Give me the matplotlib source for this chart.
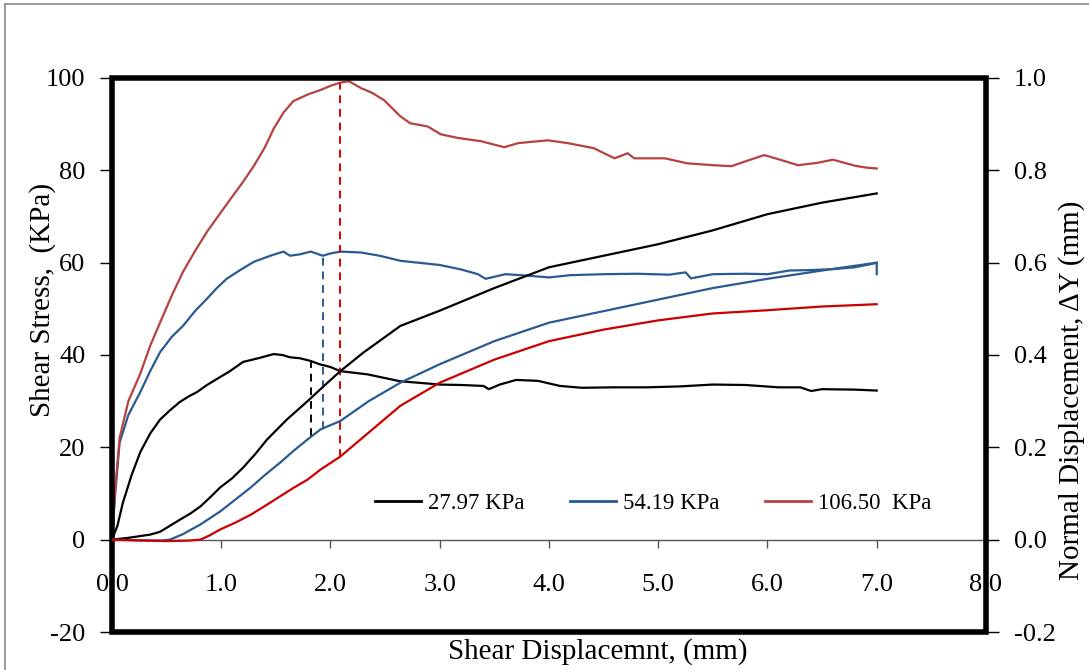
import matplotlib
matplotlib.use("Agg")
import matplotlib.pyplot as plt
from matplotlib.patches import Rectangle
from matplotlib.lines import Line2D

plt.rcParams['font.family'] = ['Liberation Serif', 'DejaVu Serif']
plt.rcParams['axes.unicode_minus'] = False

# shear stress (KPa) vs shear displacement (mm)
x_27 = [0, 0.05, 0.1, 0.18, 0.26, 0.35, 0.44, 0.53, 0.62, 0.7, 0.78, 0.87, 0.96, 1.08, 1.2, 1.34,
        1.48, 1.56, 1.63, 1.72, 1.82, 1.9, 2.0, 2.09, 2.2, 2.34, 2.5, 2.64, 2.8, 3.0, 3.2, 3.4,
        3.45, 3.55, 3.7, 3.9, 4.1, 4.3, 4.6, 4.9, 5.2, 5.5, 5.8, 6.1, 6.3, 6.4, 6.5, 6.8, 7.0]
s_27 = [0, 3, 8, 14, 19, 23, 26, 28, 29.8, 31, 32, 33.5, 34.8, 36.5, 38.5, 39.3,
        40.2, 40.0, 39.5, 39.3, 38.7, 38.0, 37.4, 36.5, 36.2, 35.8, 35.0, 34.3, 34.0, 33.6, 33.5, 33.3,
        32.6, 33.6, 34.6, 34.4, 33.3, 32.9, 33.0, 33.0, 33.2, 33.6, 33.5, 33.0, 33.0, 32.2, 32.6, 32.5, 32.3]

x_54 = [0, 0.03, 0.07, 0.15, 0.26, 0.35, 0.44, 0.55, 0.65, 0.76, 0.87, 0.96, 1.05, 1.18, 1.3, 1.45,
        1.57, 1.63, 1.72, 1.82, 1.93, 2.0, 2.09, 2.28, 2.45, 2.64, 2.8, 3.0, 3.2, 3.35, 3.42, 3.6,
        3.8, 4.0, 4.2, 4.5, 4.8, 5.1, 5.25, 5.3, 5.5, 5.8, 6.0, 6.2, 6.4, 6.6, 6.8, 6.95, 7.0, 7.0]
s_54 = [0, 10, 21, 27, 32, 36.5, 40.6, 44, 46.3, 49.5, 52.2, 54.5, 56.5, 58.5, 60.2, 61.5,
        62.4, 61.5, 61.8, 62.4, 61.5, 62.0, 62.4, 62.2, 61.5, 60.4, 60.0, 59.5, 58.5, 57.5, 56.5, 57.5,
        57.2, 56.8, 57.3, 57.5, 57.6, 57.4, 57.9, 56.6, 57.5, 57.6, 57.5, 58.3, 58.4, 58.6, 59.0, 59.7, 60.0, 57.5]

x_106 = [0, 0.03, 0.07, 0.15, 0.26, 0.35, 0.44, 0.55, 0.65, 0.76, 0.87, 1.0, 1.11, 1.2, 1.3, 1.4,
         1.48, 1.57, 1.66, 1.8, 1.91, 2.0, 2.09, 2.17, 2.28, 2.38, 2.49, 2.64, 2.73, 2.89, 3.01, 3.17,
         3.38, 3.59, 3.72, 3.99, 4.17, 4.41, 4.6, 4.72, 4.78, 5.06, 5.27, 5.51, 5.67, 5.83, 5.97, 6.13,
         6.28, 6.45, 6.6, 6.8, 6.9, 7.0]
s_106 = [0, 11, 22, 30, 36, 42, 47, 53, 58, 62.5, 66.7, 71, 74.6, 77.5, 81, 85,
         89, 92.5, 95, 96.5, 97.4, 98.3, 99.0, 99.3, 97.8, 96.8, 95.2, 91.7, 90.2, 89.5, 87.8, 87.0,
         86.3, 85.0, 85.9, 86.5, 85.9, 84.8, 82.6, 83.7, 82.6, 82.6, 81.5, 81.1, 80.9, 82.2, 83.3, 82.2,
         81.1, 81.6, 82.3, 81.0, 80.6, 80.4]

# normal displacement (mm) vs shear displacement (mm)
xd_27 = [0, 0.15, 0.35, 0.44, 0.53, 0.62, 0.72, 0.81, 0.9, 0.99, 1.1, 1.2, 1.31, 1.42, 1.6, 1.79,
         1.95, 2.09, 2.3, 2.64, 3.0, 3.5, 4.0, 4.5, 5.0, 5.5, 6.0, 6.5, 7.0]
d_27 = [0, 0.004, 0.011, 0.017, 0.03, 0.043, 0.057, 0.072, 0.092, 0.113, 0.133, 0.156, 0.185, 0.217, 0.26, 0.30,
        0.335, 0.365, 0.405, 0.463, 0.496, 0.545, 0.59, 0.615, 0.64, 0.67, 0.705, 0.73, 0.75]

xd_54 = [0, 0.2, 0.45, 0.53, 0.65, 0.81, 0.99, 1.13, 1.27, 1.4, 1.54, 1.66, 1.79, 1.91, 2.09, 2.35,
         2.64, 3.0, 3.5, 4.0, 4.5, 5.0, 5.5, 6.0, 6.5, 7.0]
d_54 = [0, -0.001, -0.002, 0, 0.012, 0.033, 0.061, 0.087, 0.113, 0.14, 0.167, 0.192, 0.217, 0.239, 0.257, 0.3,
        0.34, 0.38, 0.43, 0.47, 0.495, 0.52, 0.545, 0.565, 0.583, 0.6]

xd_106 = [0, 0.3, 0.5, 0.7, 0.81, 0.9, 0.99, 1.13, 1.27, 1.4, 1.54, 1.66, 1.79, 1.91, 2.09, 2.35,
          2.64, 3.0, 3.5, 4.0, 4.5, 5.0, 5.5, 6.0, 6.5, 7.0]
d_106 = [0, -0.002, -0.003, -0.002, 0, 0.01, 0.022, 0.037, 0.054, 0.073, 0.094, 0.112, 0.13, 0.152, 0.18, 0.232,
         0.29, 0.34, 0.39, 0.43, 0.455, 0.475, 0.49, 0.497, 0.505, 0.51]

# peak markers (dashed verticals)
peak_x = [1.82, 1.93, 2.09]
peak_stress = [38.5, 61.5, 99.0]
peak_disp = [0.224, 0.24, 0.18]

labels = ['27.97 KPa', '54.19 KPa', '106.50  KPa']
stress_colors = ['#000000', '#2A5A92', '#B5423F']
disp_colors = ['#000000', '#2A5A92', '#CC0000']
dash_colors = ['#000000', '#2A5A92', '#DD0000']

fig = plt.figure(figsize=(10.89, 6.70), dpi=100)
ax = fig.add_axes([0.1028, 0.0567, 0.8026, 0.8269])
ax2 = ax.twinx()

ax.set_xlim(0, 8)
ax.set_ylim(-20, 100)
ax2.set_ylim(-0.2, 1.0)

lw = 1.6
ax.plot(x_27, s_27, color=stress_colors[0], lw=lw)
ax.plot(x_54, s_54, color=stress_colors[1], lw=lw)
ax.plot(x_106, s_106, color=stress_colors[2], lw=lw)
ax2.plot(xd_27, d_27, color=disp_colors[0], lw=lw)
ax2.plot(xd_54, d_54, color=disp_colors[1], lw=lw)
ax2.plot(xd_106, d_106, color=disp_colors[2], lw=lw)

for px, ps, pd_, c in zip(peak_x, peak_stress, peak_disp, dash_colors):
    ax.vlines(px, pd_ * 100, ps, colors=c, linestyles=(0, (4, 3)), lw=1.4)

for a in (ax, ax2):
    for s in a.spines.values():
        s.set_visible(False)

# x axis drawn through zero
ax.spines['bottom'].set_visible(True)
ax.spines['bottom'].set_position(('data', 0))
ax.spines['bottom'].set_color('#555555')
ax.spines['bottom'].set_linewidth(1)

xt = [0, 1, 2, 3, 4, 5, 6, 7, 8]
ax.set_xticks(xt)
ax.set_xticklabels([f'{v:.1f}' for v in xt])
ax.tick_params(axis='x', direction='out', length=6, width=1, color='#555555',
               pad=19, labelsize=19)
ax.set_yticks([-20, 0, 20, 40, 60, 80, 100])
ax.tick_params(axis='y', direction='out', length=9, width=1, pad=10, labelsize=19)
ax2.set_yticks([-0.2, 0.0, 0.2, 0.4, 0.6, 0.8, 1.0])
ax2.set_yticklabels([f'{v:.1f}' for v in [-0.2, 0.0, 0.2, 0.4, 0.6, 0.8, 1.0]])
ax2.tick_params(axis='y', direction='out', length=9, width=1, pad=11, labelsize=19)

# thick frame
ax.add_patch(Rectangle((0, 0), 1, 1, transform=ax.transAxes, fill=False,
                       lw=4, edgecolor='black', clip_on=False, zorder=10))

ax.set_xlabel('Shear Displacemnt, (mm)', fontsize=21, va='center')
ax.xaxis.set_label_coords(0.556, -0.036)
ax.set_ylabel('Shear Stress,  (KPa)', fontsize=21, va='center')
ax.yaxis.set_label_coords(-0.079, 0.6)
ax2.set_ylabel('Normal Displacement, \u0394Y (mm)', fontsize=21, va='center')
ax2.yaxis.set_label_coords(1.098, 0.437)

handles = [Line2D([], [], color=c, lw=2) for c in stress_colors]
ax2.legend(handles, labels, loc='center', bbox_to_anchor=(0.6, 0.249),
           bbox_transform=fig.transFigure, ncol=3, frameon=False, fontsize=16.5,
           handlelength=2.0, handletextpad=0.3, columnspacing=2.0)

# outer figure border (left and top)
fig.add_artist(Line2D([0.005, 0.005], [0, 0.994], transform=fig.transFigure,
                      color='#888888', lw=1.2))
fig.add_artist(Line2D([0.005, 1.0], [0.994, 0.994], transform=fig.transFigure,
                      color='#888888', lw=1.2))

fig.savefig('out.png', dpi=100)
